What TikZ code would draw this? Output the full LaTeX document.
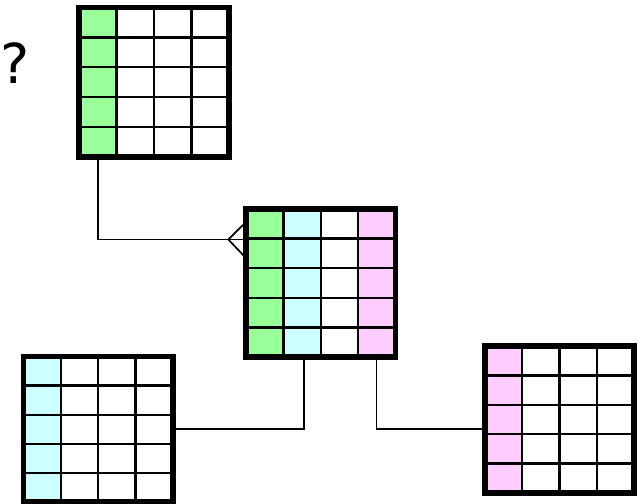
\documentclass[tikz,border=0pt]{standalone}
\usepackage{fontspec}
\newfontfamily\qfont{DejaVu Sans}
\usetikzlibrary{fit,calc}
\definecolor{cgreen}{HTML}{99FF99}
\definecolor{ccyan}{HTML}{CCFFFF}
\definecolor{cpink}{HTML}{FFCCFF}
\tikzset{
  gridl/.style={line width=2.3pt, black},
  tblbox/.style={draw, line width=5.5pt, inner sep=0pt, outer sep=0pt},
  conn/.style={line width=1.7pt, black},
}
\newcommand\mytable[9]{%
  \pgfmathsetmacro\tw{(#4-#2)/4}%
  \pgfmathsetmacro\th{(#5-#3)/5}%
  \foreach \c [count=\i from 0] in {#6,#7,#8,#9}{%
    \fill[\c] ({#2+\i*\tw},#3) rectangle ({#2+(\i+1)*\tw},#5);}%
  \foreach \k in {1,2,3}{\draw[gridl] ({#2+\k*\tw},#3) -- ({#2+\k*\tw},#5);}%
  \foreach \k in {1,...,4}{\draw[gridl] (#2,{#3+\k*\th}) -- (#4,{#3+\k*\th});}%
  \coordinate (#1-nw) at (#2,#3);
  \coordinate (#1-se) at (#4,#5);
  \node[tblbox, fit=(#1-nw)(#1-se)] (#1) {};
}
\begin{document}
\begin{tikzpicture}[x=1pt,y=-1pt]
\useasboundingbox (0,0) rectangle (641,504);
\node[anchor=base west, inner sep=0pt] (q) at (0,83) {\qfont\fontsize{55}{60}\selectfont ?};
\mytable{T1}{79}{7.5}{229}{157}{cgreen}{white}{white}{white}
\mytable{T2}{246}{209}{395.5}{357}{cgreen}{ccyan}{white}{cpink}
\mytable{T3}{23.5}{356.5}{173}{502}{ccyan}{white}{white}{white}
\mytable{T4}{485}{346}{634}{493}{cpink}{white}{white}{white}
% T1 -> T2 with crow's foot
\coordinate (foot) at (228.3,239.5);
\coordinate (s1) at ($(T1.south west)+(18.7,0)$);
\draw[conn] (s1) |- (foot) -- (T2.west |- foot);
\draw[conn] ($(T2.west |- foot)+(0,-17.5)$) -- (foot) -- ($(T2.west |- foot)+(0,18.5)$);
% T2 -> T3
\coordinate (s2) at ($(T2.south west)+(58.3,0)$);
\coordinate (m2) at ($(s2)+(0,72.3)$);
\draw[conn] (s2) -- (m2) -- (T3.east |- m2);
% T2 -> T4
\coordinate (s3) at ($(T2.south west)+(130.5,0)$);
\coordinate (m3) at ($(s3)+(0,72.3)$);
\draw[conn] (s3) -- (m3) -- (T4.west |- m3);
\end{tikzpicture}
\end{document}
